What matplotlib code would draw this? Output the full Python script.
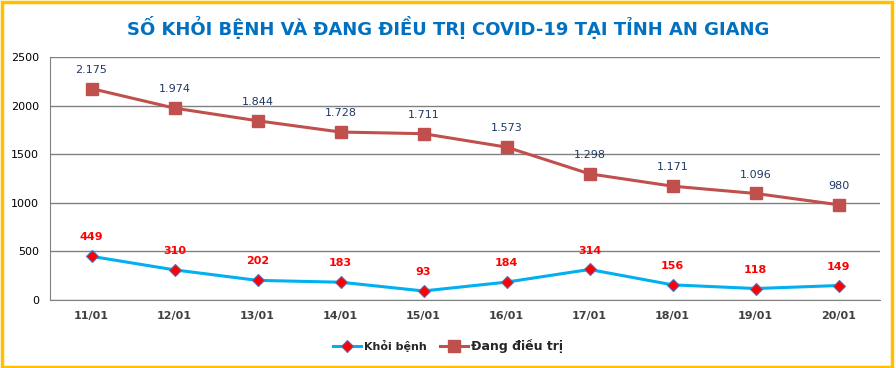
import matplotlib
matplotlib.use("Agg")
import matplotlib.pyplot as plt
from matplotlib.patches import Rectangle

days = ["11/01", "12/01", "13/01", "14/01", "15/01", "16/01", "17/01", "18/01", "19/01", "20/01"]
khoi_benh = [449, 310, 202, 183, 93, 184, 314, 156, 118, 149]
dang_dieu_tri = [2175, 1974, 1844, 1728, 1711, 1573, 1298, 1171, 1096, 980]

plt.rcParams['font.family'] = ['DejaVu Sans']

fig = plt.figure(figsize=(8.96, 3.68), dpi=100)
ax = fig.add_axes([50 / 896, 68 / 368, 830 / 896, 243 / 368])

x = range(len(days))
ax.plot(x, dang_dieu_tri, color="#C0504D", lw=2.2, marker="s", ms=8,
        label="Đang điều trị", zorder=3)
ax.plot(x, khoi_benh, color="#00B0F0", lw=2.2, marker="D", ms=6.5,
        mfc="#FF0000", mec="#4F6FC0", mew=0.8, label="Khỏi bệnh", zorder=3)

for i, v in enumerate(dang_dieu_tri):
    ax.annotate(f"{v:,}".replace(",", "."), (i, v), xytext=(0, 10),
                textcoords="offset points", ha="center", va="bottom",
                fontsize=8, color="#1F3864")
for i, v in enumerate(khoi_benh):
    ax.annotate(str(v), (i, v), xytext=(0, 10), textcoords="offset points",
                ha="center", va="bottom", fontsize=8, color="#FF0000",
                fontweight="bold")

ax.set_xlim(-0.5, len(days) - 0.5)
ax.set_ylim(0, 2500)
ax.set_yticks(range(0, 2501, 500))
ax.set_xticks(list(x))
ax.set_xticklabels(days, fontsize=8, fontweight="bold", color="#404040")
ax.tick_params(axis="y", labelsize=8, length=0, pad=8)
ax.tick_params(axis="x", length=0, pad=8)
ax.grid(axis="y", color="#808080", lw=1)
ax.set_axisbelow(True)
for s in ["top", "right"]:
    ax.spines[s].set_visible(False)
ax.spines["left"].set_color("#808080")
ax.spines["bottom"].set_color("#808080")

handles, labels = ax.get_legend_handles_labels()
leg = fig.legend(handles[::-1], labels[::-1], loc="center", bbox_to_anchor=(0.5, 0.06),
                 ncol=2, frameon=False, fontsize=8, handlelength=2.5, handletextpad=0.3,
                 columnspacing=1.2)
for t in leg.get_texts():
    t.set_fontweight("bold")
    t.set_color("#262626")
leg.get_texts()[1].set_fontsize(9)

fig.text(0.5, 0.925, "SỐ KHỎI BỆNH VÀ ĐANG ĐIỀU TRỊ COVID-19 TẠI TỈNH AN GIANG",
         ha="center", va="center", fontsize=13, fontweight="bold", color="#0070C0")

fig.patches.append(Rectangle((0.002, 0.004), 0.994, 0.99, transform=fig.transFigure,
                             fill=False, edgecolor="#FFC000", lw=2.5))

fig.savefig("out.png", dpi=100)
